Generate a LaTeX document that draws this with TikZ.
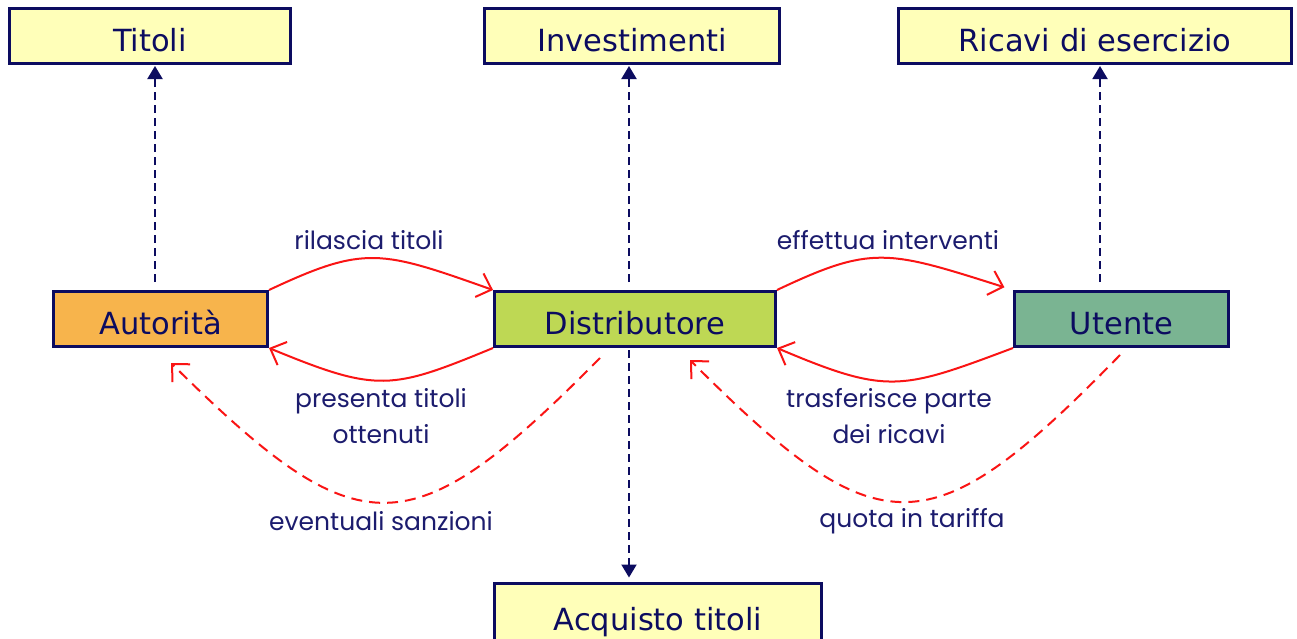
\documentclass[tikz,border=0pt]{standalone}
\usepackage{fontspec}
\setmainfont{Poppins}
\newfontfamily\boxfont{DejaVu Sans}
\usetikzlibrary{arrows.meta}
\definecolor{navy}{RGB}{12,12,96}
\definecolor{labc}{RGB}{28,28,110}
\definecolor{redc}{RGB}{250,20,20}
\definecolor{yellowfill}{RGB}{255,255,185}
\definecolor{orangefill}{RGB}{247,180,76}
\definecolor{greenfill}{RGB}{190,216,84}
\definecolor{tealfill}{RGB}{122,180,146}
\begin{document}
\begin{tikzpicture}[x=1pt,y=-1pt,
  box/.style={draw=navy, line width=3pt, font=\boxfont\fontsize{30.5}{36}\selectfont,
    text=navy, inner sep=0pt, minimum height=55pt, text height=30pt, text depth=0pt},
  lab/.style={font=\fontsize{25}{36}\selectfont, text=labc, align=center},
  uparrow/.style={draw=navy, line width=2pt, dash pattern=on 8pt off 5pt,
    -{Triangle[length=13pt,width=15pt]}},
  rel/.style={draw=redc, line width=2pt,
    -{Straight Barb[length=13pt,width=25pt,line width=2pt]}},
  reld/.style={rel, dash pattern=on 11pt off 7pt}]
\useasboundingbox (0,0) rectangle (1297,638);
\fill[white] (0,0) rectangle (1297,638);

% boxes
\node[box, fill=yellowfill, minimum width=281pt] (tit) at (150,36) {Titoli};
\node[box, fill=yellowfill, minimum width=295pt] (inv) at (632,36) {Investimenti};
\node[box, fill=yellowfill, minimum width=393pt] (ric) at (1095,36) {Ricavi di esercizio};
\node[box, fill=orangefill, minimum width=214pt] (aut) at (160.5,319) {Autorità};
\node[box, fill=greenfill, minimum width=281pt] (dis) at (635,319) {Distributore};
\node[box, fill=tealfill, minimum width=214pt] (ute) at (1121.5,319) {Utente};
\node[box, fill=yellowfill, minimum width=327pt, minimum height=64pt] (acq) at (658,615) {Acquisto titoli};

% vertical dashed arrows
\coordinate (a1) at (155,282);
\coordinate (d1) at (629,282);
\coordinate (d2) at (629,350);
\coordinate (u1) at (1100,282);
\draw[uparrow, shorten >=1pt] (a1) -- (a1 |- tit.south);
\draw[uparrow, shorten >=1pt] (d1) -- (d1 |- inv.south);
\draw[uparrow, shorten >=1pt] (u1) -- (u1 |- ric.south);
\draw[uparrow, shorten >=4pt] (d2) -- (d2 |- acq.north);

% red solid arrows
\draw[rel] (aut.north east) .. controls (365,245) and (380,250) .. (dis.north west);
\draw[rel, shorten >=9pt] (dis.north east) .. controls (872,245) and (887,250) .. (ute.north west);
\draw[rel] (dis.south west) .. controls (391,390) and (378,393) .. (aut.south east);
\draw[rel] (ute.south west) .. controls (901,390) and (888,395) .. (dis.south east);

% red dashed arrows
\coordinate (s1) at (600,358);
\coordinate (s2) at (171,363);
\coordinate (q1) at (1120,355);
\coordinate (q2) at (690,360);
\draw[reld] (s1) .. controls (410,550) and (360,550) .. (s2);
\draw[reld] (q1) .. controls (930,550) and (880,550) .. (q2);

% labels
\node[lab] (l1) at (369,240) {rilascia titoli};
\node[lab] (l2) at (888,240) {effettua interventi};
\node[lab] (l3) at (381,416) {presenta titoli\\ottenuti};
\node[lab] (l4) at (889,416) {trasferisce parte\\dei ricavi};
\node[lab] (l5) at (381,521) {eventuali sanzioni};
\node[lab] (l6) at (912,521) {quota in tariffa};
\end{tikzpicture}
\end{document}
